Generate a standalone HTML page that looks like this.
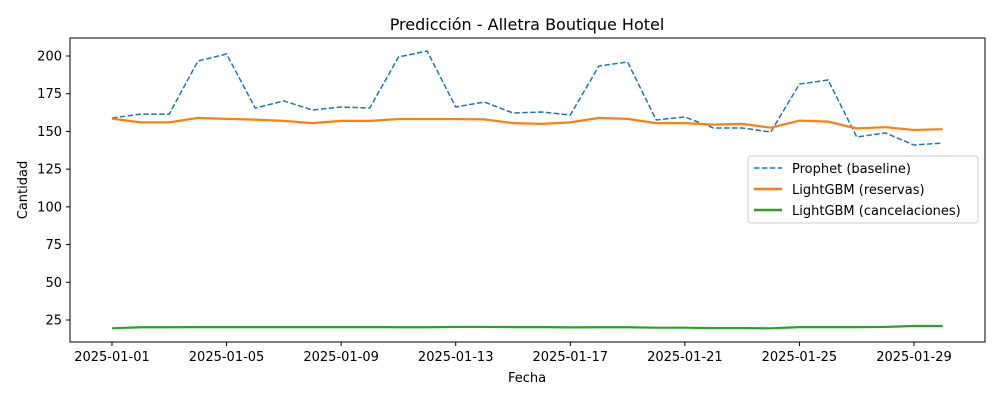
<!DOCTYPE html>
<html><head><meta charset="utf-8"><style>
body{margin:0;background:#fff;font-family:"Liberation Sans","DejaVu Sans",sans-serif}
svg text{font-family:"DejaVu Sans","Liberation Sans",sans-serif;fill:#000}
</style></head><body>
<svg id="c" width="1000" height="400">
<rect width="1000" height="400" fill="#fff"/>
<text x="527" y="30" font-size="16" text-anchor="middle">Predicción - Alletra Boutique Hotel</text>
<text x="527" y="382" font-size="13" text-anchor="middle">Fecha</text>
<text transform="translate(27,190) rotate(-90)" font-size="13" text-anchor="middle">Cantidad</text>
<g id="ax"></g>
<rect x="70" y="38" width="915" height="304" fill="none" stroke="#000" stroke-width="1"/>
<g>
<rect x="748" y="156" width="230" height="67" rx="3" fill="#fff" fill-opacity="0.8" stroke="#ccc"/>
<g><line x1="754" y1="168" x2="782" y2="168" stroke="#1f77b4" stroke-width="1.5" stroke-dasharray="5.5,2.4"/><text x="792" y="173" font-size="13">Prophet (baseline)</text></g>
<g><line x1="754" y1="189" x2="782" y2="189" stroke="#ff7f0e" stroke-width="2.5"/><text x="792" y="194" font-size="13">LightGBM (reservas)</text></g>
<g><line x1="754" y1="210" x2="782" y2="210" stroke="#2ca02c" stroke-width="2.5"/><text x="792" y="215" font-size="13">LightGBM (cancelaciones)</text></g>
</g>
</svg>
<script>
const dates=["2025-01-01","2025-01-02","2025-01-03","2025-01-04","2025-01-05","2025-01-06","2025-01-07","2025-01-08","2025-01-09","2025-01-10","2025-01-11","2025-01-12","2025-01-13","2025-01-14","2025-01-15","2025-01-16","2025-01-17","2025-01-18","2025-01-19","2025-01-20","2025-01-21","2025-01-22","2025-01-23","2025-01-24","2025-01-25","2025-01-26","2025-01-27","2025-01-28","2025-01-29","2025-01-30"];
const prophet=[158.9,161.5,161.5,196.7,201.3,165.5,170.2,164.2,166.2,165.5,199.3,203.3,166.2,169.5,162.2,162.9,160.9,193.4,196.0,157.6,159.6,152.3,152.3,149.6,181.4,184.1,146.3,149.0,141.0,142.3];
const reservas=[158.5,156,156,159,158.3,157.8,157,155.5,157,157,158.2,158.2,158.2,158,155.5,155,156,159,158.3,155.5,155.5,154.5,155,152.5,157.2,156.5,152,152.8,151,151.5];
const cancel=[19.5,20.2,20.2,20.3,20.3,20.3,20.3,20.3,20.3,20.3,20.2,20.2,20.4,20.4,20.3,20.3,20.1,20.2,20.2,19.9,19.9,19.6,19.6,19.5,20.3,20.3,20.3,20.4,21,21];
const yTicks=[25,50,75,100,125,150,175,200];
const xTickIdx=[0,4,8,12,16,20,24,28];
const NS="http://www.w3.org/2000/svg";
const X=i=>112+i*(802/28);
const Y=v=>320-(v-25)*(264/175);
const ax=document.getElementById('ax');
function mk(t,a){const e=document.createElementNS(NS,t);for(const k in a)e.setAttribute(k,a[k]);return e;}
yTicks.forEach(v=>{
 const g=mk('g',{});
 
 
 g.appendChild(mk('line',{x1:66,x2:70,y1:Y(v),y2:Y(v),stroke:'#000'}));
 const t=mk('text',{x:62,y:Y(v)+4.5,'font-size':13,'text-anchor':'end'});t.textContent=v;g.appendChild(t);
 ax.appendChild(g);
});
xTickIdx.forEach(i=>{
 const g=mk('g',{});
 
 
 g.appendChild(mk('line',{x1:X(i),x2:X(i),y1:342,y2:346,stroke:'#000'}));
 const t=mk('text',{x:X(i),y:361,'font-size':13,'text-anchor':'middle'});t.textContent=dates[i];g.appendChild(t);
 ax.appendChild(g);
});
function line(data,color,w,dash,name){
 const p=mk('polyline',{points:data.map((v,i)=>X(i)+','+Y(v)).join(' '),fill:'none',stroke:color,'stroke-width':w});
 if(dash)p.setAttribute('stroke-dasharray',dash);
 
 
 ax.appendChild(p);
}
line(prophet,'#1f77b4',1.5,'5.5,2.4','prophet-line');
line(reservas,'#ff7f0e',2.2,null,'reservas-line');
line(cancel,'#2ca02c',2.2,null,'cancelaciones-line');
</script>
</body></html>
